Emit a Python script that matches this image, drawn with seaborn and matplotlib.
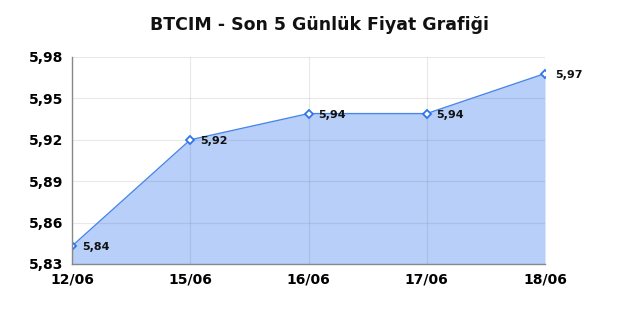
import matplotlib
matplotlib.use("Agg")
import matplotlib.pyplot as plt
import seaborn as sns
import pandas as pd

dates = ["12/06", "15/06", "16/06", "17/06", "18/06"]
prices = [5.843, 5.920, 5.939, 5.939, 5.968]
labels = ["5,84", "5,92", "5,94", "5,94", "5,97"]
yticks = [5.83, 5.86, 5.89, 5.92, 5.95, 5.98]
ytick_labels = ["5,83", "5,86", "5,89", "5,92", "5,95", "5,98"]
title = "BTCIM - Son 5 Günlük Fiyat Grafiği"

sns.set_style("white")
plt.rcParams['font.family'] = ['DejaVu Sans']

df = pd.DataFrame({"x": range(len(dates)), "price": prices})

fig = plt.figure(figsize=(6.4, 3.2), dpi=100)
ax = fig.add_axes([72/640, 1-264/320, (545-72)/640, (264-57)/320])

ax.fill_between(df["x"], prices, 5.83, color="#b7cff9", zorder=1, linewidth=0)
ax.grid(True, color="#555555", alpha=0.13, linewidth=0.8, zorder=2)
sns.lineplot(data=df, x="x", y="price", ax=ax, color="#4a86e8", linewidth=1,
             marker="D", markersize=4.5, markerfacecolor="white",
             markeredgecolor="#2f74e8", markeredgewidth=1.3, zorder=3)

for xi, yi, lab in zip(df["x"], prices, labels):
    ax.annotate(lab, (xi, yi), xytext=(7, -1), textcoords="offset points",
                fontsize=8, fontweight="bold", va="center", ha="left",
                color="#111111", zorder=4, annotation_clip=False)

ax.set_xlim(0, len(dates) - 1)
ax.set_ylim(5.83, 5.98)
ax.set_xticks(range(len(dates)))
ax.set_xticklabels(dates, fontsize=10, fontweight="bold", color="black")
ax.set_yticks(yticks)
ax.set_yticklabels(ytick_labels, fontsize=10, fontweight="bold", color="black")
ax.set_xlabel("")
ax.set_ylabel("")
ax.set_axisbelow(False)
for s in ["top", "right"]:
    ax.spines[s].set_visible(False)
for s in ["left", "bottom"]:
    ax.spines[s].set_color("#888888")
    ax.spines[s].set_linewidth(1)
    ax.spines[s].set_zorder(5)
ax.tick_params(axis="y", length=0, pad=6)
ax.tick_params(axis="x", length=0, pad=6)

fig.text(0.5, 1 - 25/320, title, ha="center", va="center", fontsize=12.5,
         fontweight="bold", color="#111111")

fig.savefig("out.png", dpi=100, facecolor="white")
